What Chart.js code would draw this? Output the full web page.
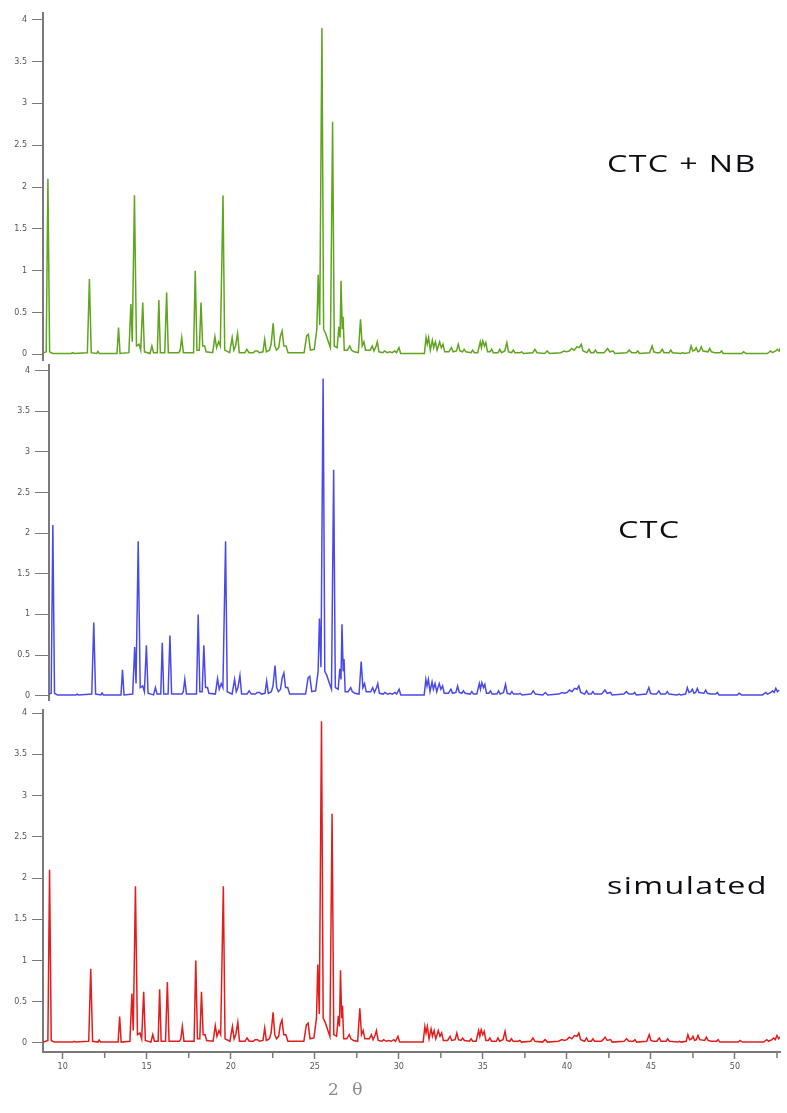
<!DOCTYPE html>
<html>
<head>
<meta charset="utf-8">
<script src="https://cdn.jsdelivr.net/npm/chart.js@4.4.1/dist/chart.umd.min.js"></script>
<style>
  html, body { margin: 0; padding: 0; background: #fff; }
  #wrap { position: relative; width: 787px; height: 1113px; overflow: hidden; }
  #wrap canvas { position: absolute; left: 0; }
  .tag { position: absolute; font-family: "Open Sans", sans-serif; font-size: 23px; line-height: 1;
         color: #0d0d14; white-space: nowrap; transform-origin: left center; transform: scaleX(1.4); letter-spacing: 1px; }
  .xtitle { position: absolute; font-family: "DejaVu Serif", serif; font-size: 17px; line-height: 1;
            color: #8a8a8a; white-space: nowrap; letter-spacing: 4px; }
</style>
</head>
<body>
<div id="wrap">
  <canvas id="topChart" width="787" height="370" style="top:0px"></canvas>
  <canvas id="midChart" width="787" height="355" style="top:355px"></canvas>
  <canvas id="botChart" width="787" height="413" style="top:700px"></canvas>
  <div class="tag" style="left:607px; top:152px">CTC + NB</div>
  <div class="tag" style="left:618px; top:518px">CTC</div>
  <div class="tag" style="left:607px; top:874px">simulated</div>
  <div class="xtitle" style="left:328px; top:1081px">2 θ</div>
</div>
<script>
// panel names, top to bottom
const seriesNames = ['CTC + NB', 'CTC', 'simulated'];
const seriesColors = ['#5fa51e', '#4a4aeb', '#e41c1c'];

// 2-theta positions (deg) and intensities
// (the three traces are the same pattern, so they share these)
const twoTheta = [
  8.85, 9.12, 9.22, 9.32, 9.5, 10.6, 10.68, 10.76, 11.55, 11.67, 11.78, 12.1, 12.17, 12.25,
  13.3, 13.39, 13.48, 14.0, 14.12, 14.2, 14.33, 14.45, 14.6, 14.7, 14.82, 14.92,
  15.25, 15.36, 15.46, 15.68, 15.77, 15.86, 16.12, 16.23, 16.33, 16.95, 17.03, 17.12, 17.22,
  17.82, 17.92, 18.02, 18.16, 18.26, 18.36, 18.48, 18.56, 18.95, 19.08, 19.18, 19.3, 19.4,
  19.56, 19.66, 19.95, 20.1, 20.2, 20.3, 20.42, 20.52, 20.85, 20.97, 21.1, 21.35, 21.45,
  21.6, 21.7, 21.92, 22.02, 22.12, 22.3, 22.4, 22.52, 22.62, 22.72, 22.85, 22.95, 23.05,
  23.15, 23.28, 23.4, 24.35, 24.5, 24.6, 24.72, 24.95, 25.1, 25.18, 25.27, 25.4, 25.5,
  25.62, 25.78, 25.9, 26.03, 26.13, 26.3, 26.4, 26.47, 26.53, 26.6, 26.65, 26.72, 26.9,
  27.05, 27.15, 27.3, 27.55, 27.68, 27.78, 27.88, 27.98, 28.25, 28.37, 28.47, 28.6, 28.67,
  28.77, 29.0, 29.1, 29.25, 29.4, 29.55, 29.7, 29.8, 29.95, 30.05, 31.45, 31.55, 31.62,
  31.7, 31.8, 31.92, 32.0, 32.1, 32.2, 32.35, 32.45, 32.55, 32.65, 32.9, 33.05, 33.15,
  33.35, 33.45, 33.55, 33.7, 33.8, 33.9, 34.2, 34.3, 34.4, 34.6, 34.75, 34.82, 34.9, 35.0,
  35.08, 35.18, 35.32, 35.42, 35.52, 35.8, 35.9, 36.0, 36.2, 36.32, 36.42, 36.6, 36.7,
  36.8, 37.1, 37.2, 37.3, 37.85, 37.98, 38.1, 38.55, 38.7, 38.85, 39.5, 39.7, 39.85,
  40.0, 40.15, 40.3, 40.45, 40.6, 40.71, 40.82, 41.05, 41.17, 41.28, 41.45, 41.55, 41.65,
  42.05, 42.15, 42.27, 42.4, 42.6, 42.7, 43.4, 43.55, 43.7, 43.95, 44.05, 44.15, 44.75,
  44.9, 45.0, 45.15, 45.35, 45.5, 45.6, 45.9, 46.0, 46.1, 46.6, 46.7, 46.8, 47.1, 47.2,
  47.3, 47.42, 47.5, 47.6, 47.7, 47.8, 47.9, 48.2, 48.3, 48.4, 48.6, 48.9, 49.0, 49.1,
  50.2, 50.3, 50.45, 51.7, 51.9, 52.0, 52.2, 52.3, 52.4, 52.5, 52.6, 52.7
];
const intensity = [
  0.01, 0.03, 2.1, 0.03, 0.01, 0.01, 0.02, 0.01, 0.02, 0.9, 0.02, 0.01, 0.035, 0.01,
  0.01, 0.32, 0.01, 0.02, 0.6, 0.15, 1.9, 0.1, 0.12, 0.05, 0.62, 0.03,
  0.01, 0.1, 0.02, 0.02, 0.65, 0.02, 0.02, 0.74, 0.02, 0.02, 0.05, 0.2, 0.02,
  0.02, 1.0, 0.05, 0.05, 0.62, 0.1, 0.1, 0.03, 0.02, 0.21, 0.08, 0.15, 0.1,
  1.9, 0.05, 0.02, 0.2, 0.05, 0.1, 0.25, 0.02, 0.02, 0.06, 0.02, 0.02, 0.04,
  0.04, 0.02, 0.03, 0.18, 0.03, 0.05, 0.12, 0.37, 0.1, 0.05, 0.08, 0.22, 0.28,
  0.1, 0.1, 0.02, 0.02, 0.22, 0.24, 0.05, 0.06, 0.3, 0.95, 0.35, 3.9, 0.3,
  0.25, 0.15, 0.08, 2.78, 0.1, 0.08, 0.33, 0.2, 0.88, 0.3, 0.45, 0.05, 0.05,
  0.1, 0.05, 0.03, 0.02, 0.42, 0.1, 0.15, 0.05, 0.05, 0.1, 0.04, 0.1, 0.15,
  0.03, 0.02, 0.04, 0.02, 0.03, 0.02, 0.04, 0.02, 0.08, 0.01, 0.01, 0.2, 0.12,
  0.2, 0.05, 0.17, 0.08, 0.15, 0.05, 0.15, 0.08, 0.12, 0.03, 0.03, 0.08, 0.03,
  0.04, 0.12, 0.04, 0.03, 0.06, 0.03, 0.02, 0.05, 0.02, 0.02, 0.15, 0.08, 0.16, 0.1,
  0.14, 0.03, 0.03, 0.06, 0.02, 0.02, 0.06, 0.02, 0.04, 0.14, 0.03, 0.02, 0.05,
  0.02, 0.02, 0.03, 0.01, 0.02, 0.06, 0.02, 0.01, 0.04, 0.01, 0.02, 0.04, 0.03,
  0.04, 0.07, 0.05, 0.09, 0.08, 0.12, 0.04, 0.02, 0.06, 0.02, 0.02, 0.05, 0.02,
  0.02, 0.04, 0.07, 0.03, 0.04, 0.01, 0.02, 0.05, 0.02, 0.02, 0.04, 0.01, 0.02,
  0.1, 0.03, 0.02, 0.02, 0.06, 0.02, 0.02, 0.05, 0.02, 0.01, 0.02, 0.01, 0.02, 0.1,
  0.04, 0.05, 0.08, 0.03, 0.04, 0.09, 0.04, 0.03, 0.07, 0.03, 0.02, 0.02, 0.04, 0.01,
  0.01, 0.03, 0.01, 0.01, 0.04, 0.02, 0.04, 0.06, 0.04, 0.09, 0.05, 0.07
];

// axis ticks
const yTickStep = 0.5;
const xTickStep = 5;
const xMinorTicks = [12.5, 17.5, 22.5, 27.5, 32.5, 37.5, 42.5, 47.5, 52.5];

const axisGrey = '#7a7a7a';
const tickFont = { family: 'DejaVu Sans', size: 8 };

const points = twoTheta.map((t, i) => ({ x: t, y: intensity[i] }));

// short minor ticks under the bottom x axis
const minorTicks = {
  id: 'minorTicks',
  afterDraw(chart) {
    const xs = chart.scales.x;
    if (!xs.options.display) return;
    const ctx = chart.ctx;
    const y0 = chart.chartArea.bottom + 1;
    ctx.save();
    ctx.strokeStyle = axisGrey;
    ctx.lineWidth = 1.5;
    xMinorTicks.forEach(v => {
      const px = xs.getPixelForValue(v);
      ctx.beginPath();
      ctx.moveTo(px, y0);
      ctx.lineTo(px, y0 + 5);
      ctx.stroke();
    });
    ctx.restore();
  }
};

function makePanel(id, idx, p) {
  new Chart(document.getElementById(id), {
    type: 'scatter',
    data: {
      datasets: [{
        label: seriesNames[idx],
        data: points,
        showLine: true,
        borderColor: seriesColors[idx],
        borderWidth: 1.5,
        pointRadius: 0,
        tension: 0
      }]
    },
    options: {
      responsive: false,
      animation: false,
      layout: { padding: { top: p.padTop, bottom: p.padBottom, left: 0, right: 7 } },
      plugins: { legend: { display: false }, tooltip: { enabled: false } },
      scales: {
        x: {
          type: 'linear',
          display: p.showX,
          min: p.xMin,
          max: p.xMax,
          border: { display: true, color: axisGrey, width: 2 },
          grid: { drawOnChartArea: false, drawTicks: true, tickLength: 7, tickColor: axisGrey, tickWidth: 1.5 },
          ticks: { stepSize: xTickStep, includeBounds: false, font: tickFont, color: '#555', padding: 3, maxRotation: 0 },
          afterFit: s => { s.height = p.showX ? 40 : 0; }
        },
        y: {
          type: 'linear',
          min: p.yMin,
          max: p.yMax,
          border: { display: true, color: axisGrey, width: 2 },
          grid: { drawOnChartArea: false, drawTicks: true, tickLength: p.tickLen, tickColor: axisGrey, tickWidth: 1 },
          ticks: { stepSize: yTickStep, includeBounds: false, font: tickFont, color: '#555', padding: 5,
                   callback: v => String(v) },
          afterFit: s => { s.width = p.axisX; }
        }
      }
    },
    plugins: [minorTicks]
  });
}

makePanel('topChart', 0, { padTop: 13, padBottom: 8, axisX: 43, tickLen: 11, xMin: 8.93, xMax: 52.45, yMin: -0.07, yMax: 4.08, showX: false });
makePanel('midChart', 1, { padTop: 5, padBottom: 7, axisX: 49, tickLen: 14, xMin: 8.99, xMax: 52.75, yMin: -0.055, yMax: 4.07, showX: false });
makePanel('botChart', 2, { padTop: 5, padBottom: 21, axisX: 43, tickLen: 11, xMin: 8.83, xMax: 52.68, yMin: -0.11, yMax: 4.04, showX: true });
</script>
</body>
</html>
